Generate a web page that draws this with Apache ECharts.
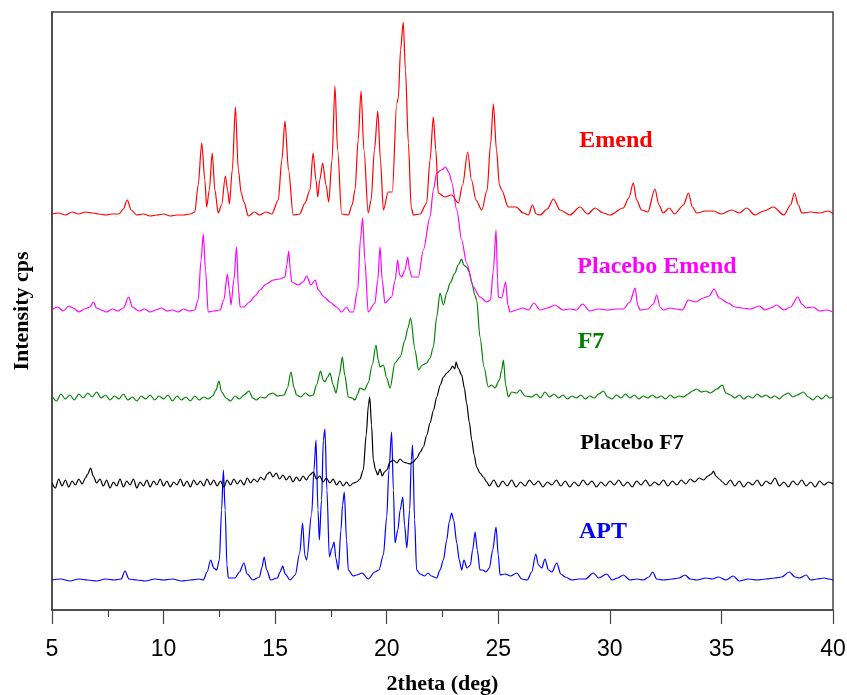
<!DOCTYPE html>
<html><head><meta charset="utf-8">
<script src="https://cdn.jsdelivr.net/npm/echarts@6/dist/echarts.min.js"></script>
<style>html,body{margin:0;padding:0;background:#fff}#c{width:847px;height:695px}</style>
</head><body><div id="c"></div>
<script>
const xTicks = [5, 10, 15, 20, 25, 30, 35, 40];
const minorTicks = [7.5, 12.5, 17.5, 22.5];
const seriesNames = ['Emend', 'Placebo Emend', 'F7', 'Placebo F7', 'APT'];
const seriesColors = ['#ff0000', '#ff00ff', '#008000', '#000000', '#0000ff'];

const emend = [[5.0,396],[5.3,397],[5.6,395],[5.9,398],[6.2,396],[6.5,398],[6.8,397],[7.1,396],[7.4,395],[7.7,396],[8.0,396],[8.2,401],[8.37,410],[8.55,400],[8.8,395],[9.1,396],[9.4,394],[9.7,395],[10.0,396],[10.3,394],[10.6,395],[10.9,395],[11.2,396],[11.4,398],[11.55,425],[11.71,467],[11.85,430],[11.93,403],[12.05,420],[12.18,457],[12.3,420],[12.45,397],[12.6,405],[12.77,434],[12.87,420],[12.95,406],[13.08,440],[13.22,503],[13.35,440],[13.48,417],[13.6,408],[13.8,394],[14.07,398],[14.3,395],[14.59,398],[14.85,396],[15.14,410],[15.3,450],[15.44,489],[15.6,440],[15.81,395],[16.1,396],[16.34,407],[16.56,420],[16.7,457],[16.83,430],[16.91,413],[17.0,430],[17.13,447],[17.28,425],[17.4,408],[17.55,450],[17.68,524],[17.8,460],[17.98,396],[18.28,395],[18.45,405],[18.58,420],[18.72,470],[18.85,519],[18.98,460],[19.17,397],[19.3,410],[19.45,460],[19.6,499],[19.72,450],[19.85,400],[20.07,418],[20.25,418],[20.45,507],[20.52,512],[20.62,560],[20.74,588],[20.84,540],[20.97,467],[21.1,402],[21.2,395],[21.5,396],[21.79,407],[21.94,450],[22.09,493],[22.2,460],[22.31,417],[22.6,413],[22.91,415],[23.21,407],[23.4,425],[23.63,458],[23.8,430],[24.0,410],[24.26,400],[24.5,420],[24.65,465],[24.78,506],[24.92,460],[25.05,425],[25.15,420],[25.45,403],[25.8,403],[26.12,397],[26.35,395],[26.53,405],[26.7,396],[26.87,395],[27.2,401],[27.47,411],[27.77,400],[28.21,395],[28.66,403],[29.0,396],[29.34,402],[29.7,397],[30.0,395],[30.6,402],[30.85,412],[31.05,427],[31.2,410],[31.42,400],[31.7,398],[32.02,421],[32.2,405],[32.39,397],[32.66,402],[32.9,396],[33.3,405],[33.52,417],[33.7,403],[33.89,397],[34.3,399],[34.64,399],[35.0,396],[35.46,400],[35.8,397],[36.13,402],[36.5,395],[36.9,399],[37.33,403],[37.8,395],[38.1,405],[38.27,417],[38.45,405],[38.6,397],[39.0,398],[39.4,397],[39.79,399],[40.0,396]];

const placeboEmend = [[5.0,300],[5.25,303],[5.5,299],[5.75,304],[5.96,302],[6.2,298],[6.45,301],[6.7,303],[6.85,308],[7.0,302],[7.2,300],[7.45,298],[7.7,301],[7.95,299],[8.2,302],[8.44,313],[8.6,303],[8.9,299],[9.15,301],[9.4,298],[9.65,300],[9.9,302],[10.15,299],[10.4,300],[10.65,298],[10.9,301],[11.15,299],[11.4,300],[11.55,310],[11.68,350],[11.78,376],[11.88,340],[12.0,298],[12.25,299],[12.53,300],[12.7,310],[12.86,336],[12.95,320],[13.02,305],[13.15,330],[13.27,363],[13.36,320],[13.43,303],[13.6,303],[13.85,308],[14.1,314],[14.32,320],[14.6,326],[14.92,330],[15.2,331],[15.44,333],[15.52,345],[15.61,359],[15.68,340],[15.74,328],[16.04,325],[16.25,328],[16.41,334],[16.6,325],[16.8,330],[16.93,320],[17.2,313],[17.46,308],[17.75,303],[17.98,298],[18.2,303],[18.35,298],[18.5,298],[18.7,320],[18.82,370],[18.92,392],[19.02,350],[19.17,298],[19.47,307],[19.6,330],[19.7,363],[19.8,330],[19.92,307],[20.22,313],[20.38,330],[20.49,350],[20.58,335],[20.67,333],[20.82,340],[20.94,353],[21.03,340],[21.12,333],[21.42,333],[21.64,360],[21.94,393],[22.09,420],[22.24,437],[22.45,440],[22.64,443],[22.8,437],[22.91,428],[23.14,400],[23.36,370],[23.58,347],[23.88,323],[24.18,313],[24.48,308],[24.65,310],[24.78,340],[24.9,380],[24.97,330],[25.0,313],[25.15,312],[25.33,328],[25.43,305],[25.53,298],[25.8,300],[26.1,302],[26.35,300],[26.6,307],[26.87,300],[27.2,302],[27.54,305],[27.9,300],[28.2,301],[28.5,300],[28.78,306],[29.1,299],[29.5,301],[29.9,300],[30.3,301],[30.6,301],[30.9,308],[31.13,322],[31.25,305],[31.35,300],[31.7,301],[31.95,306],[32.1,315],[32.25,303],[32.4,300],[32.7,302],[32.95,301],[33.25,300],[33.52,310],[33.85,308],[34.19,312],[34.45,314],[34.67,321],[34.9,312],[35.3,307],[35.6,303],[35.9,302],[36.3,301],[36.7,304],[36.95,300],[37.2,302],[37.48,305],[37.8,300],[38.1,303],[38.42,313],[38.6,306],[38.8,302],[39.1,303],[39.4,299],[39.7,300],[40.0,298]];

const f7 = [[5.0,214],[5.2,209],[5.4,216],[5.6,211],[5.8,215],[6.0,210],[6.2,216],[6.4,212],[6.6,217],[6.8,213],[7.0,218],[7.2,212],[7.4,215],[7.6,210],[7.8,214],[8.0,211],[8.2,216],[8.4,210],[8.6,213],[8.8,209],[9.0,214],[9.2,211],[9.4,215],[9.6,210],[9.8,214],[10.0,211],[10.2,215],[10.4,209],[10.6,214],[10.8,210],[11.0,213],[11.2,209],[11.4,214],[11.6,210],[11.8,213],[12.0,211],[12.2,214],[12.35,220],[12.48,229],[12.6,218],[12.8,212],[13.0,209],[13.2,214],[13.4,211],[13.6,215],[13.83,219],[14.0,212],[14.15,210],[14.35,213],[14.55,212],[14.75,216],[14.9,217],[15.1,214],[15.4,215],[15.55,222],[15.71,238],[15.85,222],[15.96,215],[16.15,213],[16.35,217],[16.55,214],[16.71,215],[16.85,225],[17.04,239],[17.15,230],[17.23,228],[17.35,233],[17.46,237],[17.6,225],[17.73,217],[17.88,235],[18.01,253],[18.12,235],[18.28,213],[18.45,212],[18.58,210],[18.7,216],[18.8,222],[19.0,220],[19.17,227],[19.35,245],[19.52,265],[19.62,250],[19.7,243],[19.85,245],[20.0,232],[20.15,222],[20.37,247],[20.6,253],[20.82,270],[20.95,282],[21.07,292],[21.27,260],[21.42,240],[21.6,245],[21.79,247],[21.94,252],[22.09,263],[22.24,293],[22.39,317],[22.54,305],[22.7,318],[22.84,327],[23.06,337],[23.2,345],[23.36,351],[23.45,345],[23.58,343],[23.7,338],[23.81,328],[23.95,315],[24.03,310],[24.18,273],[24.36,243],[24.55,223],[24.7,225],[24.85,222],[25.05,230],[25.15,240],[25.23,250],[25.33,225],[25.45,213],[25.6,218],[25.83,217],[25.97,220],[26.2,214],[26.5,213],[26.7,216],[26.89,212],[27.09,218],[27.3,213],[27.5,216],[27.7,212],[27.9,215],[28.1,211],[28.3,214],[28.5,212],[28.7,215],[28.9,211],[29.1,214],[29.3,212],[29.5,216],[29.71,219],[29.9,213],[30.1,211],[30.3,215],[30.5,212],[30.7,216],[30.9,212],[31.1,215],[31.3,211],[31.5,214],[31.7,212],[31.9,215],[32.1,212],[32.3,214],[32.5,211],[32.7,215],[32.9,212],[33.1,214],[33.3,213],[33.5,216],[33.7,219],[33.89,221],[34.1,218],[34.3,219],[34.5,217],[34.8,221],[35.04,225],[35.2,217],[35.4,215],[35.6,212],[35.8,215],[36.0,211],[36.2,214],[36.4,212],[36.6,216],[36.8,213],[37.0,215],[37.2,212],[37.4,214],[37.6,211],[37.8,215],[38.0,217],[38.2,213],[38.4,215],[38.67,218],[38.9,213],[39.1,210],[39.3,214],[39.5,211],[39.7,215],[39.85,212],[40.0,213]];

const placeboF7 = [[5.0,127],[5.15,122],[5.3,131],[5.45,124],[5.6,130],[5.75,123],[5.9,129],[6.05,125],[6.2,131],[6.35,126],[6.5,132],[6.6,136],[6.73,142],[6.85,134],[7.0,127],[7.15,131],[7.3,124],[7.45,130],[7.6,122],[7.75,128],[7.9,124],[8.05,131],[8.2,123],[8.35,129],[8.5,125],[8.65,131],[8.8,122],[8.95,128],[9.1,124],[9.25,130],[9.4,123],[9.55,129],[9.7,125],[9.85,131],[10.0,124],[10.15,129],[10.3,123],[10.45,128],[10.6,125],[10.75,131],[10.9,124],[11.05,129],[11.2,123],[11.35,130],[11.5,125],[11.65,129],[11.8,124],[11.95,131],[12.1,125],[12.25,130],[12.4,124],[12.55,129],[12.7,123],[12.85,130],[13.0,125],[13.15,131],[13.3,126],[13.45,130],[13.6,125],[13.75,132],[13.9,127],[14.05,131],[14.2,128],[14.35,133],[14.5,130],[14.65,136],[14.77,138],[14.9,133],[15.05,137],[15.2,131],[15.35,135],[15.5,130],[15.65,134],[15.8,128],[15.95,133],[16.1,129],[16.25,134],[16.4,130],[16.55,135],[16.71,138],[16.85,131],[17.0,134],[17.15,128],[17.3,132],[17.45,127],[17.6,131],[17.75,125],[17.9,129],[18.05,124],[18.2,128],[18.35,124],[18.5,127],[18.65,128],[18.8,131],[18.95,140],[19.08,175],[19.18,205],[19.24,213],[19.32,185],[19.4,150],[19.5,140],[19.6,135],[19.7,141],[19.8,134],[19.9,138],[20.0,140],[20.15,148],[20.3,150],[20.45,147],[20.6,151],[20.75,148],[20.9,147],[21.05,146],[21.19,148],[21.35,152],[21.5,158],[21.64,163],[21.8,175],[21.94,187],[22.1,200],[22.24,213],[22.4,225],[22.54,233],[22.7,237],[22.84,240],[22.95,244],[23.05,241],[23.11,248],[23.2,242],[23.36,235],[23.48,222],[23.58,207],[23.7,188],[23.81,170],[23.92,155],[24.03,143],[24.18,137],[24.33,133],[24.48,128],[24.6,124],[24.8,130],[25.0,123],[25.2,129],[25.4,124],[25.6,130],[25.8,123],[26.0,128],[26.2,124],[26.4,130],[26.6,125],[26.8,129],[27.0,123],[27.2,128],[27.4,125],[27.6,130],[27.8,124],[28.0,129],[28.2,123],[28.4,128],[28.6,124],[28.8,130],[29.0,125],[29.2,129],[29.4,123],[29.6,128],[29.8,124],[30.0,129],[30.2,125],[30.4,130],[30.6,124],[30.8,128],[31.0,123],[31.2,129],[31.4,125],[31.6,130],[31.8,124],[32.0,128],[32.2,125],[32.4,130],[32.6,124],[32.8,129],[33.0,125],[33.2,130],[33.4,126],[33.6,131],[33.8,128],[34.0,132],[34.2,130],[34.4,134],[34.55,136],[34.64,139],[34.75,134],[34.9,131],[35.05,128],[35.2,125],[35.4,130],[35.6,124],[35.8,129],[36.0,123],[36.2,128],[36.4,125],[36.6,130],[36.8,124],[37.0,129],[37.2,126],[37.4,132],[37.6,124],[37.8,128],[38.0,123],[38.2,129],[38.4,125],[38.6,130],[38.8,124],[39.0,128],[39.2,123],[39.4,129],[39.6,125],[39.8,128],[40.0,126]];

const apt = [[5.0,30],[5.4,31],[5.8,29],[6.2,31],[6.6,30],[7.0,29],[7.4,31],[7.8,30],[8.1,31],[8.27,39],[8.45,31],[8.8,30],[9.2,29],[9.6,31],[10.0,30],[10.4,31],[10.8,29],[11.2,30],[11.6,31],[11.78,30],[11.95,38],[12.11,50],[12.25,42],[12.38,40],[12.5,50],[12.6,100],[12.68,140],[12.76,100],[12.84,45],[12.9,32],[13.2,32],[13.4,38],[13.6,47],[13.75,36],[14.0,30],[14.3,33],[14.4,42],[14.51,53],[14.62,40],[14.8,30],[15.1,32],[15.22,38],[15.34,44],[15.45,36],[15.67,30],[15.9,35],[16.1,57],[16.23,87],[16.33,55],[16.41,50],[16.64,97],[16.74,140],[16.83,170],[16.92,100],[16.98,70],[17.08,110],[17.16,170],[17.23,181],[17.32,120],[17.43,53],[17.55,62],[17.64,68],[17.72,52],[17.83,40],[17.95,80],[18.02,105],[18.1,118],[18.2,70],[18.28,40],[18.5,34],[18.65,35],[18.9,37],[19.17,31],[19.47,38],[19.65,40],[19.85,55],[20.0,93],[20.1,140],[20.22,178],[20.3,120],[20.37,67],[20.5,80],[20.6,100],[20.72,113],[20.8,85],[20.9,62],[21.03,100],[21.1,150],[21.16,165],[21.25,90],[21.34,40],[21.5,36],[21.7,34],[21.85,37],[22.0,34],[22.24,32],[22.39,40],[22.54,50],[22.69,70],[22.8,88],[22.91,97],[23.0,90],[23.14,67],[23.25,50],[23.36,40],[23.46,50],[23.6,42],[23.75,45],[23.85,60],[23.96,78],[24.06,60],[24.18,40],[24.3,40],[24.45,38],[24.6,42],[24.75,60],[24.9,83],[25.0,55],[25.08,35],[25.3,36],[25.55,34],[25.83,37],[26.05,31],[26.3,30],[26.5,38],[26.68,56],[26.8,45],[26.95,42],[27.09,51],[27.25,40],[27.4,38],[27.62,47],[27.8,36],[28.0,33],[28.3,30],[28.6,31],[28.9,31],[29.26,37],[29.5,32],[29.86,36],[30.1,30],[30.35,32],[30.6,35],[30.9,30],[31.2,31],[31.5,30],[31.75,33],[31.92,38],[32.1,31],[32.4,30],[32.8,31],[33.1,32],[33.37,35],[33.6,31],[33.9,30],[34.3,32],[34.6,31],[34.86,33],[35.2,30],[35.53,34],[35.8,29],[36.2,31],[36.6,30],[37.0,31],[37.4,32],[37.7,33],[38.04,38],[38.3,33],[38.5,32],[38.8,35],[39.0,30],[39.3,31],[39.6,32],[39.8,31],[40.0,30]];

const allData = [emend, placeboEmend, f7, placeboF7, apt];

const chart = echarts.init(document.getElementById('c'), null, {renderer: 'canvas'});
const axisColor = '#444';
const serif = '"Liberation Serif", "Times New Roman", serif';

const labelPos = [[616, 141, 24], [657, 267, 24], [591, 342, 24], [632, 443, 22], [603, 532, 24]];

chart.setOption({
  animation: false,
  backgroundColor: '#fff',
  grid: {left: 52, right: 14, top: 12, bottom: 85, containLabel: false, outerBoundsMode: 'none', show: true, borderColor: axisColor, borderWidth: 1.5, backgroundColor: 'transparent'},
  xAxis: [{
    type: 'value', min: xTicks[0], max: xTicks[xTicks.length - 1], interval: 5,
    axisLine: {show: true, lineStyle: {color: axisColor, width: 1.5}},
    axisTick: {show: true, inside: false, length: 14, lineStyle: {color: axisColor, width: 1.2}},
    axisLabel: {margin: 28, fontSize: 23, color: '#000', fontFamily: '"Liberation Sans", Arial, sans-serif'},
    splitLine: {show: false},
    name: '2theta (deg)', nameLocation: 'middle', nameGap: 63,
    nameTextStyle: {fontFamily: serif, fontWeight: 'bold', fontSize: 22, color: '#000'}
  }, {
    type: 'value', min: xTicks[0], max: xTicks[xTicks.length - 1], position: 'bottom',
    axisLine: {show: false},
    axisTick: {show: true, length: 7, customValues: minorTicks, lineStyle: {color: axisColor, width: 1.2}},
    axisLabel: {show: false}, splitLine: {show: false}
  }],
  yAxis: {
    type: 'value', min: 0, max: 598,
    axisLine: {show: true, lineStyle: {color: axisColor, width: 1.5}},
    axisTick: {show: false}, axisLabel: {show: false}, splitLine: {show: false},
    name: 'Intensity cps', nameLocation: 'middle', nameGap: 19, nameRotate: 90,
    nameTextStyle: {fontFamily: serif, fontWeight: 'bold', fontSize: 22, color: '#000'}
  },
  series: allData.map((d, i) => ({
    type: 'line', name: seriesNames[i], data: d, xAxisIndex: 0,
    showSymbol: false, symbol: 'none', silent: true,
    smooth: 0.3, smoothMonotone: 'x',
    lineStyle: {color: seriesColors[i], width: 1.2},
    z: 10 - i
  })),
  graphic: seriesNames.map((n, i) => ({
    type: 'text', x: labelPos[i][0], y: labelPos[i][1], z: 100,
    style: {text: n, fill: seriesColors[i], font: 'bold ' + labelPos[i][2] + 'px ' + serif, align: 'center', verticalAlign: 'middle'}
  }))
});
</script></body></html>
